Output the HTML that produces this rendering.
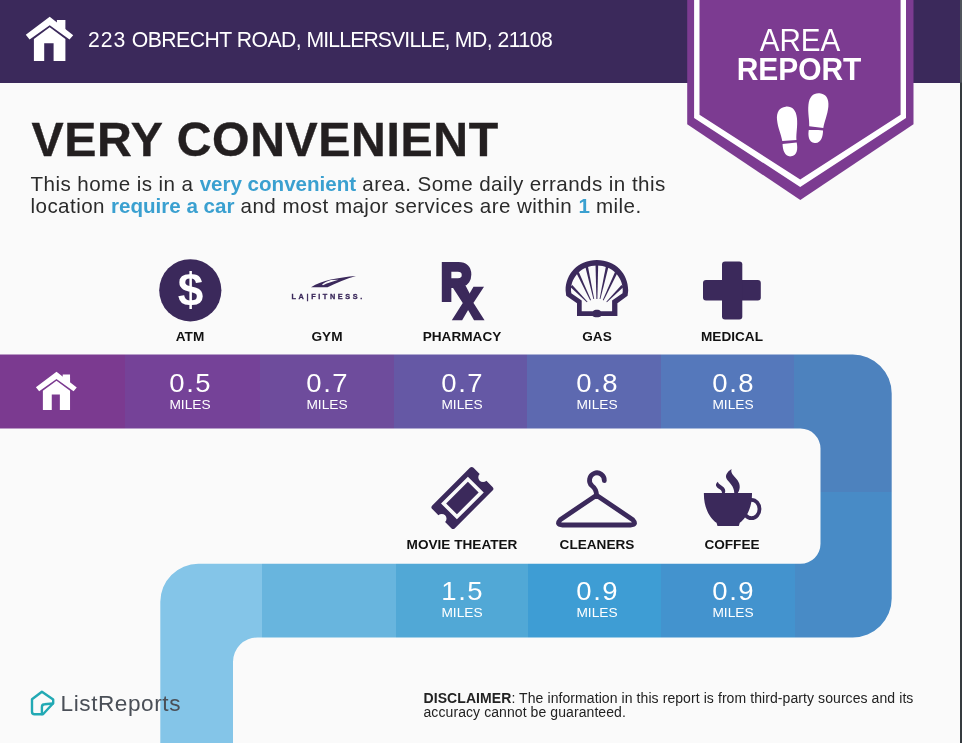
<!DOCTYPE html>
<html lang="en">
<head>
<meta charset="utf-8">
<title>Area Report - 223 Obrecht Road</title>
<style>
  html, body { margin: 0; padding: 0; }
  body {
    width: 962px; height: 743px; overflow: hidden; position: relative;
    background: #fafafa;
    font-family: "Liberation Sans", sans-serif;
  }
  .abs { position: absolute; white-space: nowrap; }
  #bg { position: absolute; left: 0; top: 0; width: 962px; height: 743px; }
  #header { position: absolute; left: 0; top: 0; width: 962px; height: 82.8px; background: #3b295b; }
  #addr { left: 88px; top: 27.9px; font-size: 21.2px; line-height: 24px; color: #fff; letter-spacing: -0.52px; }
  #title { left: 31.6px; top: 112.9px; font-size: 48.2px; line-height: 52px; font-weight: bold; color: #231f20; letter-spacing: 0.62px; -webkit-text-stroke: 0.4px #231f20; }
  .para { left: 30.5px; font-size: 20.6px; line-height: 22px; color: #2b2b2b; letter-spacing: 0.43px; }
  .para b { color: #3aa0d0; font-weight: bold; letter-spacing: -0.02px; }
  .lbl { font-size: 13.6px; line-height: 16px; font-weight: bold; color: #111; text-align: center; width: 160px; }
  .num { font-size: 25px; line-height: 28px; color: #fff; text-align: center; width: 134px; letter-spacing: 1.4px; text-indent: 1.4px; transform: scaleX(1.1); }
  .mi { font-size: 12.6px; line-height: 14px; color: #fff; text-align: center; width: 134px; transform: scaleX(1.09); }
  #lr { left: 60.6px; top: 689.6px; font-size: 22.6px; line-height: 28px; color: #4a4f57; letter-spacing: 0.56px; }
  #area { left: 700px; width: 200px; text-align: center; top: 25px; font-size: 30.7px; line-height: 32px; color: #fff; transform: scaleX(0.965); }
  #report { left: 698.8px; width: 200px; text-align: center; top: 53px; font-size: 31.7px; line-height: 32px; color: #fff; font-weight: bold; transform: scaleX(0.944); }
  .disc { left: 423.5px; font-size: 14px; line-height: 15px; color: #222; letter-spacing: 0.08px; }
</style>
</head>
<body>
<div id="header"></div>

<!-- path band + badge + icons -->
<svg id="bg" viewBox="0 0 962 743">
  <defs>
    <clipPath id="band">
      <path d="M0 354.5 H852.7 A39 39 0 0 1 891.7 393.5 V598.4 A39 39 0 0 1 852.7 637.4 H257.5 A24.5 24.5 0 0 0 233 661.9 V743 H160.3 V601.8 A38 38 0 0 1 198.3 563.8 H800.5 A20 20 0 0 0 820.5 543.8 V448.6 A20 20 0 0 0 800.5 428.6 H0 Z"/>
    </clipPath>
  </defs>
  <g clip-path="url(#band)" shape-rendering="crispEdges">
    <rect x="0" y="340" width="125" height="100" fill="#7b3a90"/>
    <rect x="125" y="340" width="135" height="100" fill="#754298"/>
    <rect x="260" y="340" width="134" height="100" fill="#6e4c9c"/>
    <rect x="394" y="340" width="133" height="100" fill="#6558a5"/>
    <rect x="527" y="340" width="134" height="100" fill="#5d69b0"/>
    <rect x="661" y="340" width="133" height="100" fill="#5578bb"/>
    <rect x="794" y="340" width="168" height="152" fill="#4d82be"/>
    <rect x="794" y="492" width="168" height="58" fill="#488bc6"/>
    <rect x="795" y="550" width="167" height="100" fill="#488bc6"/>
    <rect x="150" y="550" width="112" height="200" fill="#84c5e8"/>
    <rect x="262" y="550" width="134" height="100" fill="#68b5de"/>
    <rect x="396" y="550" width="132" height="100" fill="#51a8d6"/>
    <rect x="528" y="550" width="133" height="100" fill="#3e9dd4"/>
    <rect x="661" y="550" width="134" height="100" fill="#4393ce"/>
  </g>



  <!-- badge -->
  <path d="M687.2 0 H913.5 V124.2 L800.3 200 L687.2 124.2 Z" fill="#7c3b91"/>
  <path d="M694.1 -5 V117.9 L800.2 187 L906 117.9 V-5 H900.6 V114.7 L800.2 179.6 L699.5 114.7 V-5 Z" fill="#fff"/>

  <!-- header house -->
  <g id="house" fill="#fff">
    <path d="M49.7 16.8 L73.2 35.2 L69.5 39.4 L49.7 25.3 L29.6 39.4 L25.8 34.7 Z"/>
    <path d="M56.9 20.1 H65.4 V30.5 L56.9 24 Z"/>
    <path d="M49.7 27.3 L65.4 38.9 V61.1 H53.6 V43.2 H44.2 V61.1 H33.9 V38.9 Z"/>
  </g>
  <!-- band house -->
  <g fill="#fff" transform="translate(56.5 371.7) scale(0.862) translate(-49.7 -16.8)">
    <path d="M49.7 16.8 L73.2 35.2 L69.5 39.4 L49.7 25.3 L29.6 39.4 L25.8 34.7 Z"/>
    <path d="M56.9 20.1 H65.4 V30.5 L56.9 24 Z"/>
    <path d="M49.7 27.3 L65.4 38.9 V61.1 H53.6 V43.2 H44.2 V61.1 H33.9 V38.9 Z"/>
  </g>

  <!-- footprints -->
  <g fill="#fff">
    <g transform="translate(788.3 106.5) rotate(-6 0 25)">
      <path d="M-10 12.5 C-10 4 -6 0 0 0 C6 0 10 4 10 12.5 C10 21 7.6 27 7.2 34.2 L-7 33.9 C-7.4 27 -10 21 -10 12.5 Z"/>
      <path d="M-7 36.8 L7.2 36.8 C7.8 43 6.5 50 0.2 50 C-6 50 -7.6 43 -7 36.6 Z"/>
    </g>
    <g transform="translate(817.1 93.1) rotate(6 0 25)">
      <path d="M-10 12.5 C-10 4 -6 0 0 0 C6 0 10 4 10 12.5 C10 21 7.6 27 7.2 34.2 L-7 33.9 C-7.4 27 -10 21 -10 12.5 Z"/>
      <path d="M-7 36.8 L7.2 36.8 C7.8 43 6.5 50 0.2 50 C-6 50 -7.6 43 -7 36.6 Z"/>
    </g>
  </g>

  <!-- ATM -->
  <circle cx="190.3" cy="290.3" r="31.1" fill="#3b295b"/>
  <text x="190.5" y="305.9" font-family="Liberation Sans, sans-serif" font-weight="bold" font-size="46" fill="#fff" text-anchor="middle">$</text>

  <!-- GYM : LA Fitness -->
  <path d="M311 287.2 C322 280.5 338 277.4 356 276 C346 279 337 282.5 327.5 287.2 Z" fill="#3b295b"/>
  <path d="M323 285.2 C328 283 333 281.2 338.5 279.8 L331 279.9 C327 281 324 282.6 322 284.4 Z" fill="#fafafa"/>
  <text x="291.5" y="299.3" font-family="Liberation Sans, sans-serif" font-weight="bold" font-size="7.3" fill="#3b295b" stroke="#3b295b" stroke-width="0.3" letter-spacing="2.62">LA|FITNESS.</text>

  <!-- PHARMACY : Rx -->
  <g fill="#3b295b" stroke="#3b295b" stroke-linejoin="miter" font-family="Liberation Sans, sans-serif" font-weight="bold">
    <text transform="translate(440.6 299.7) scale(0.85 1)" font-size="51.5" stroke-width="3.8">R</text>
    <text transform="translate(453.6 318.6) scale(0.88 1)" font-size="60" stroke-width="2.4">x</text>
  </g>

  <!-- GAS : shell -->
  <g>
    <path d="M596.9 260.1 C578 260.1 565.6 274 565.6 290.4 L566.2 295.8 L577 303.2 V316 H592.5 C594 317.8 599.8 317.8 601.3 316 H617.4 V303.2 L627.6 295.8 L628.2 290.4 C628.2 274 615.8 260.1 596.9 260.1 Z" fill="#3b295b"/>
    <path d="M596.9 265.5 C581.5 265.5 571 277 571 290.4 L571.3 293.2 L581.7 300.6 V311.2 H593 C594.8 309.4 599 309.4 600.8 311.2 H612.1 V300.6 L622.5 293.2 L622.8 290.4 C622.8 277 612.3 265.5 596.9 265.5 Z" fill="#fafafa"/>
    <g fill="#3b295b">
      <polygon points="595.5,264.0 598.2,264.0 597.4,299.0 596.4,299.0"/>
      <polygon points="585.3,266.8 587.9,266.2 594.2,298.9 593.4,299.1"/>
      <polygon points="605.9,266.2 608.5,266.8 600.4,299.1 599.6,298.9"/>
      <polygon points="576.4,273.1 578.8,271.9 591.0,300.1 590.2,300.5"/>
      <polygon points="615.0,271.9 617.4,273.1 603.6,300.5 602.8,300.1"/>
      <polygon points="570.3,287.0 572.3,285.0 587.5,301.7 586.9,302.3"/>
      <polygon points="621.5,285.0 623.5,287.0 606.9,302.3 606.3,301.7"/>
    </g>
  </g>

  <!-- MEDICAL : cross -->
  <g fill="#3b295b">
    <rect x="703" y="279.9" width="57.8" height="20.7" rx="3"/>
    <rect x="722" y="261.4" width="20.3" height="58" rx="3"/>
  </g>

  <!-- MOVIE THEATER : ticket -->
  <g transform="translate(462.4 498) rotate(-45) scale(1.035)">
    <path d="M-25.7 -15.5 H25.7 A2.5 2.5 0 0 1 28.2 -13 V-4.6 A4.6 4.6 0 0 0 28.2 4.6 V13 A2.5 2.5 0 0 1 25.7 15.5 H-25.7 A2.5 2.5 0 0 1 -28.2 13 V4.6 A4.6 4.6 0 0 0 -28.2 -4.6 V-13 A2.5 2.5 0 0 1 -25.7 -15.5 Z" fill="#3b295b"/>
    <rect x="-16.6" y="-9.1" width="33.2" height="18.2" fill="none" stroke="#fafafa" stroke-width="3.5"/>
  </g>

  <!-- CLEANERS : hanger -->
  <g fill="none" stroke="#3b295b" stroke-width="4.8" stroke-linecap="round" stroke-linejoin="round">
    <path d="M596.5 495.3 L560.6 519.4 Q555.5 525 562.5 525 H630.5 Q637.5 525 632.4 519.4 Z"/>
    <path d="M604.3 480.6 A7.4 7.4 0 1 0 591.8 485.6 Q596.5 489 596.5 495.3"/>
  </g>

  <!-- COFFEE : cup -->
  <g>
    <ellipse cx="751.5" cy="509" rx="8" ry="9.2" fill="none" stroke="#3b295b" stroke-width="3.8"/>
    <path d="M703.9 492.9 H752 C752.3 508 746 518.5 739.8 522.8 L738.8 526 H717.5 L716.5 522.8 C710 518.5 703.6 508 703.9 492.9 Z" fill="#3b295b"/>
    <path d="M731.5 469.1 C727 472 724.5 476 727 479.5 C729.5 483 734 486 734.3 493 L737.8 493 C741 488 740 483 736.5 479 C733 475 730.5 473 731.5 469.1 Z" fill="#3b295b"/>
    <path d="M718 481.8 C715 484 715.5 486.5 718.5 488.5 C721 490 722 491 722 493 L724.8 493 C726 490.5 725 488 722 486 C719.5 484.3 718 483.5 718 481.8 Z" fill="#3b295b"/>
  </g>

  <!-- ListReports logo mark -->
  <g fill="none" stroke="#22a9b4" stroke-width="2.4" stroke-linejoin="round" stroke-linecap="round">
    <path d="M41.9 691.7 L53.2 699.6 V703.2 L43 714.3 H34.6 Q32 714.3 32 711.7 V699.3 Z"/>
    <path d="M41.9 714 V707 Q41.9 704.3 44.6 704.2 L52.8 703.5"/>
  </g>
  <!-- right edge line -->
  <rect x="960" y="0" width="2" height="82.8" fill="#50545c"/>
  <rect x="960" y="82.8" width="2" height="661" fill="#353b3f"/>
</svg>

<div class="abs" id="addr"><span style="letter-spacing:1px">223</span> OBRECHT ROAD, <span style="letter-spacing:-0.87px">MILLERSVILLE,</span> MD, 21108</div>
<div class="abs" id="area">AREA</div>
<div class="abs" id="report">REPORT</div>
<div class="abs" id="title">VERY CONVENIENT</div>
<div class="abs para" style="top:173.3px">This home is in a <b>very convenient</b> area. Some daily errands in this</div>
<div class="abs para" style="top:194.5px">location <b>require a car</b> and most major services are within <b>1</b> mile.</div>

<div class="abs lbl" style="left:110px; top:328.6px">ATM</div>
<div class="abs lbl" style="left:247px; top:328.6px">GYM</div>
<div class="abs lbl" style="left:382px; top:328.6px">PHARMACY</div>
<div class="abs lbl" style="left:517px; top:328.6px">GAS</div>
<div class="abs lbl" style="left:652px; top:328.6px">MEDICAL</div>

<div class="abs num" style="left:123.3px; top:369px">0.5</div><div class="abs mi" style="left:123.3px; top:398px">MILES</div>
<div class="abs num" style="left:259.5px; top:369px">0.7</div><div class="abs mi" style="left:259.5px; top:398px">MILES</div>
<div class="abs num" style="left:394.8px; top:369px">0.7</div><div class="abs mi" style="left:394.8px; top:398px">MILES</div>
<div class="abs num" style="left:530.3px; top:369px">0.8</div><div class="abs mi" style="left:530.3px; top:398px">MILES</div>
<div class="abs num" style="left:665.5px; top:369px">0.8</div><div class="abs mi" style="left:665.5px; top:398px">MILES</div>

<div class="abs lbl" style="left:382px; top:536.5px">MOVIE THEATER</div>
<div class="abs lbl" style="left:517px; top:536.5px">CLEANERS</div>
<div class="abs lbl" style="left:652px; top:536.5px">COFFEE</div>

<div class="abs num" style="left:394.8px; top:576.6px">1.5</div><div class="abs mi" style="left:394.8px; top:605.7px">MILES</div>
<div class="abs num" style="left:530.3px; top:576.6px">0.9</div><div class="abs mi" style="left:530.3px; top:605.7px">MILES</div>
<div class="abs num" style="left:665.5px; top:576.6px">0.9</div><div class="abs mi" style="left:665.5px; top:605.7px">MILES</div>

<div class="abs" id="lr">ListReports</div>
<div class="abs disc" style="top:690.6px"><b>DISCLAIMER</b>: The information in this report is from third-party sources and its</div>
<div class="abs disc" style="top:705.4px">accuracy cannot be guaranteed.</div>
</body>
</html>
